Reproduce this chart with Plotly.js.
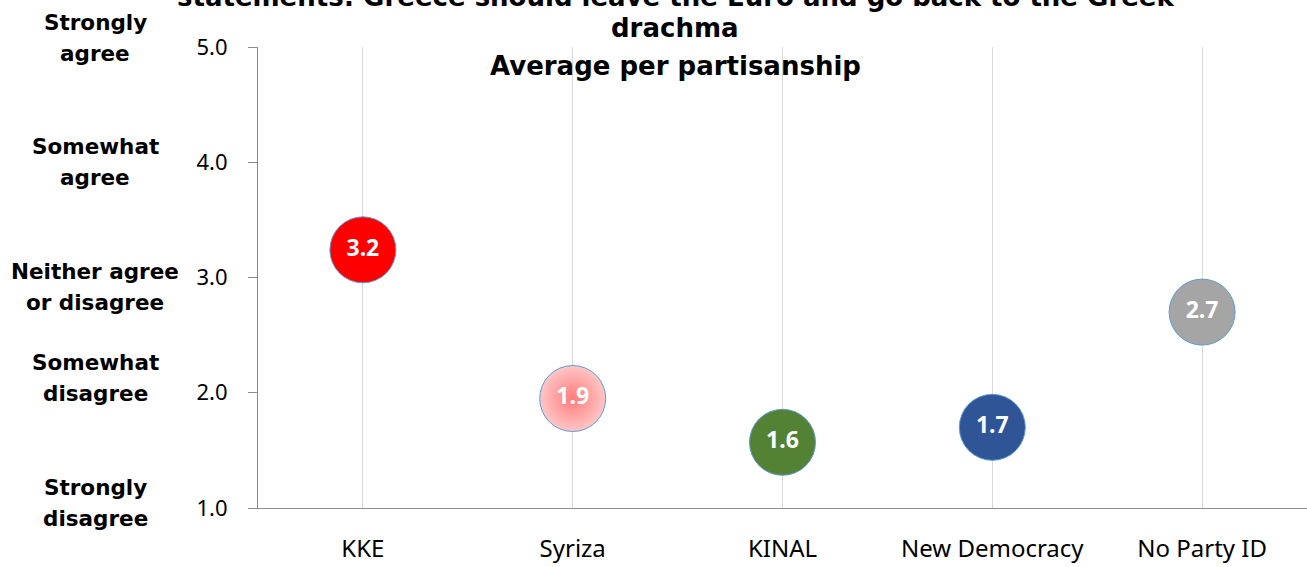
<!DOCTYPE html>
<html>
<head>
<meta charset="utf-8">
<script src="https://cdn.plot.ly/plotly-3.0.1.min.js"></script>
<style>html,body{margin:0;padding:0;background:#fff;}#chart{width:1307px;height:567px;}</style>
</head>
<body>
<div id="chart"></div>
<script>
const parties = ["KKE", "Syriza", "KINAL", "New Democracy", "No Party ID"];
const averages = [3.24, 1.95, 1.57, 1.70, 2.70];
const valueLabels = ["3.2", "1.9", "1.6", "1.7", "2.7"];
const scaleValues = [5, 4, 3, 2, 1];
const scaleLabels = ["Strongly<br>agree", "Somewhat<br>agree", "Neither agree<br>or disagree", "Somewhat<br>disagree", "Strongly<br>disagree"];
const yTickVals = [1, 2, 3, 4, 5];
const yTickText = ["1.0", "2.0", "3.0", "4.0", "5.0"];
const titleLines = ["statements: Greece should leave the Euro and go back to the Greek", "drachma", "Average per partisanship"];

const outerColors = ["#FF0000", "#FFC6C6", "#548235", "#2F5597", "#A5A5A5"];
const innerColors = ["#FF0000", "#FF7C7C", "#548235", "#2F5597", "#A5A5A5"];
const FONT = "Noto Sans, Open Sans, sans-serif";
const BOLDFONT = "DejaVu Sans, Verdana, sans-serif";

const trace = {
  type: "scatter",
  mode: "markers+text",
  x: parties,
  y: averages,
  text: valueLabels,
  textposition: "middle center",
  textfont: {family: FONT, size: 23, color: "#FFFFFF", weight: "bold"},
  marker: {
    size: 66,
    color: outerColors,
    line: {color: "#5B9BD5", width: 1},
    gradient: {type: ["none", "radial", "none", "none", "none"], color: innerColors}
  },
  cliponaxis: false,
  hoverinfo: "x+y"
};

// plot area geometry (pixels)
const L = 258, T = 47, W = 1049, H = 461;
const scaleShift = [9.5, 0, -9, 14.5, 5.5];
const annotations = [];
scaleLabels.forEach((t, i) => {
  const lines = t.split("<br>");
  lines.forEach((ln, j) => {
    annotations.push({
      text: "<b>" + ln + "</b>",
      xref: "paper", yref: "y",
      x: (95 - L) / W, y: scaleValues[i],
      yshift: scaleShift[i] + (j === 0 ? 15.5 : -15.5),
      xanchor: "center", yanchor: "middle",
      showarrow: false,
      font: {family: BOLDFONT, size: 21.5, color: "#000"}
    });
  });
});
const titleY = [-3, 28, 66];
titleLines.forEach((t, i) => {
  annotations.push({
    text: "<b>" + t + "</b>",
    xref: "paper", yref: "paper",
    x: (675 - L) / W,
    y: 1 + (T - titleY[i]) / H,
    xanchor: "center", yanchor: "middle",
    showarrow: false,
    font: {family: BOLDFONT, size: 26, color: "#000"}
  });
});

const layout = {
  width: 1307, height: 567,
  margin: {l: L, r: 0, t: T, b: 59},
  paper_bgcolor: "#fff", plot_bgcolor: "#fff",
  showlegend: false,
  xaxis: {
    type: "category",
    range: [-0.5, 4.5],
    showgrid: true, gridcolor: "#D9D9D9", gridwidth: 1,
    showline: true, linecolor: "#8C8C8C", linewidth: 1,
    ticks: "", ticklabelstandoff: 19,
    tickfont: {family: FONT, size: 24, color: "#000"},
    zeroline: false, fixedrange: true
  },
  yaxis: {
    range: [1, 5],
    tickvals: yTickVals, ticktext: yTickText,
    showgrid: false, zeroline: false,
    showline: true, linecolor: "#8C8C8C", linewidth: 1,
    ticks: "outside", ticklen: 9, tickcolor: "#8C8C8C",
    ticklabelstandoff: 16,
    tickfont: {family: FONT, size: 22, color: "#000"},
    fixedrange: true
  },
  annotations: annotations
};

Plotly.newPlot("chart", [trace], layout, {displayModeBar: false});
</script>
</body>
</html>
